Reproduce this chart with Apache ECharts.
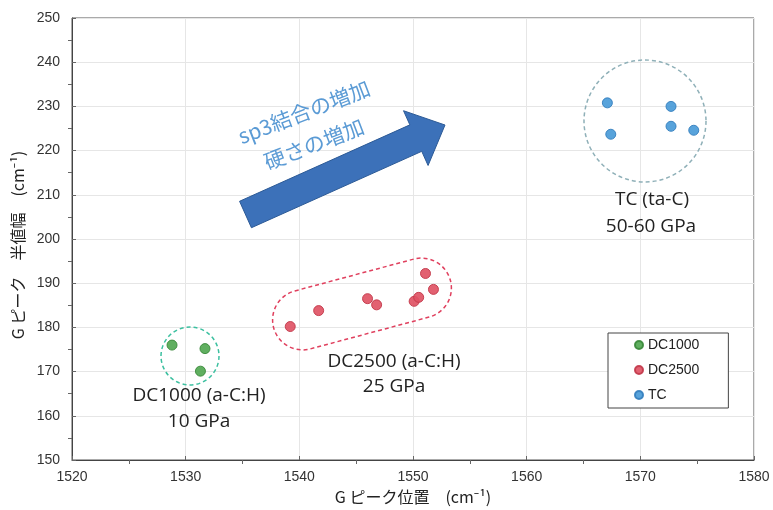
<!DOCTYPE html>
<html>
<head>
<meta charset="utf-8">
<script src="https://cdn.jsdelivr.net/npm/echarts@6/dist/echarts.min.js"></script>
<style>html,body{margin:0;padding:0;background:#fff;}#c{width:773px;height:510px;}</style>
</head>
<body>
<div id="c"></div>
<script>
// ---- data ----
const xTicks = [1520, 1530, 1540, 1550, 1560, 1570, 1580];
const yTicks = [150, 160, 170, 180, 190, 200, 210, 220, 230, 240, 250];
const seriesNames = ['DC1000', 'DC2500', 'TC'];
const dc1000 = [[1528.8, 176.0], [1531.7, 175.2], [1531.3, 170.1]];
const dc2500 = [[1539.2, 180.2], [1541.7, 183.8], [1546.0, 186.5], [1546.8, 185.1],
                [1550.1, 185.9], [1550.5, 186.8], [1551.1, 192.2], [1551.8, 188.6]];
const tc = [[1567.1, 230.8], [1567.4, 223.7], [1572.7, 230.0], [1572.7, 225.5], [1574.7, 224.6]];
const xTitle = 'G ピーク位置　(cm⁻¹)';
const yTitle = 'G ピーク　半値幅　(cm⁻¹)';
const groupLabels = [
  ['DC1000 (a-C:H)', '10 GPa'],
  ['DC2500 (a-C:H)', '25 GPa'],
  ['TC (ta-C)', '50-60 GPa']
];
const arrowLines = ['sp3結合の増加', '硬さの増加'];

// ---- styles ----
const colors = [
  {fill: '#52a852', edge: '#3b8a3b'},
  {fill: '#e05465', edge: '#c23a4b'},
  {fill: '#4a9bd8', edge: '#357fbe'}
];
const tickFont = 'Liberation Sans, Arial, sans-serif';
const jpFont = '"Noto Sans CJK JP", "Noto Sans", sans-serif';
const lblFont = '"Open Sans", "Noto Sans", sans-serif';

const chart = echarts.init(document.getElementById('c'), null, {renderer: 'canvas'});
const dataSets = [dc1000, dc2500, tc];

function axisCommon() {
  return {
    axisLine: {show: true, lineStyle: {color: '#444', width: 1}},
    axisTick: {show: true, inside: true, length: 4, lineStyle: {color: '#666'}},
    minorTick: {show: true, splitNumber: 2, length: -4, lineStyle: {color: '#666'}},
    splitLine: {show: true, lineStyle: {color: '#e6e6e6', width: 1}},
    axisLabel: {fontFamily: tickFont, fontSize: 14, color: '#333', formatter: v => String(v)}
  };
}

const xAxis = Object.assign(axisCommon(), {
  type: 'value', min: xTicks[0], max: xTicks[xTicks.length - 1], interval: 10,
  name: xTitle, nameLocation: 'middle', nameGap: 27,
  nameTextStyle: {fontFamily: jpFont, fontSize: 16, color: '#222'}
});
xAxis.axisLabel.margin = 10;
const yAxis = Object.assign(axisCommon(), {
  type: 'value', min: yTicks[0], max: yTicks[yTicks.length - 1], interval: 10,
  name: yTitle, nameLocation: 'middle', nameGap: 38, nameRotate: 90,
  nameTextStyle: {fontFamily: jpFont, fontSize: 16, color: '#222', padding: [0, 12, 0, 0]}
});
yAxis.axisLabel.margin = 12;

const option = {
  animation: false,
  backgroundColor: '#fff',
  grid: {left: 72, top: 18, right: 19, bottom: 50, show: true, borderColor: '#555', borderWidth: 1},
  xAxis: xAxis,
  yAxis: yAxis,
  legend: {
    data: seriesNames, orient: 'vertical', left: 608, top: 333,
    padding: [5, 29, 6, 26], itemGap: 11, itemWidth: 8, itemHeight: 8, icon: 'circle',
    borderColor: '#444', borderWidth: 1, backgroundColor: '#fff',
    textStyle: {fontFamily: tickFont, fontSize: 14, color: '#222', lineHeight: 14}
  },
  series: seriesNames.map((n, i) => ({
    name: n, type: 'scatter', data: dataSets[i], symbolSize: 10,
    itemStyle: {color: colors[i].fill, borderColor: colors[i].edge, borderWidth: 1, opacity: 0.92}
  }))
};
chart.setOption(option);

// ---- annotations (decorative, pixel space) ----
const dash = {lineDash: [4, 3], lineWidth: 1.5, fill: 'none'};
function txt(s, x, y, size, font, color, rot) {
  return {type: 'text', x: x, y: y, rotation: rot || 0, z: 10,
    style: {text: s, x: 0, y: 0, align: 'center', verticalAlign: 'middle',
      fontSize: size, fontFamily: font, fill: color}};
}
// arrow geometry
const tail = [245.5, 214.5], tip = [445, 125];
const dx = tip[0] - tail[0], dy = tip[1] - tail[1], L = Math.hypot(dx, dy);
const d = [dx / L, dy / L], nrm = [-d[1], d[0]];
const bw = 14.5, hw = 30, hl = 32;
const base = [tip[0] - hl * d[0], tip[1] - hl * d[1]];
const P = (p, k) => [p[0] + k * nrm[0], p[1] + k * nrm[1]];
const arrowPts = [P(tail, bw), P(base, bw), P(base, hw), tip, P(base, -hw), P(base, -bw), P(tail, -bw)];
const rot = 21 * Math.PI / 180;

chart.setOption({
  graphic: [
    {type: 'circle', shape: {cx: 190, cy: 356, r: 29}, z: 5,
      style: Object.assign({stroke: '#3cc0a0'}, dash)},
    {type: 'rect', x: 362, y: 304, rotation: 15 * Math.PI / 180, z: 5,
      shape: {x: -91.5, y: -30, width: 183, height: 60, r: 30},
      style: Object.assign({stroke: '#e0405e'}, dash)},
    {type: 'circle', shape: {cx: 645, cy: 121, r: 61}, z: 5,
      style: Object.assign({stroke: '#8fb0b8'}, dash)},
    {type: 'polygon', shape: {points: arrowPts}, z: 6,
      style: {fill: '#3c71b9', stroke: '#2c5a96', lineWidth: 1}},
    txt(arrowLines[0], 304, 112, 21, jpFont, '#5b9bd5', rot),
    txt(arrowLines[1], 314, 144, 21, jpFont, '#5b9bd5', rot),
    txt(groupLabels[0][0], 199, 396, 19, lblFont, '#222'),
    txt(groupLabels[0][1], 199, 422, 19, lblFont, '#222'),
    txt(groupLabels[1][0], 394, 362, 19, lblFont, '#222'),
    txt(groupLabels[1][1], 394, 387, 19, lblFont, '#222'),
    txt(groupLabels[2][0], 652, 200, 19, lblFont, '#222'),
    txt(groupLabels[2][1], 651, 227, 19, lblFont, '#222')
  ]
});
</script>
</body>
</html>
